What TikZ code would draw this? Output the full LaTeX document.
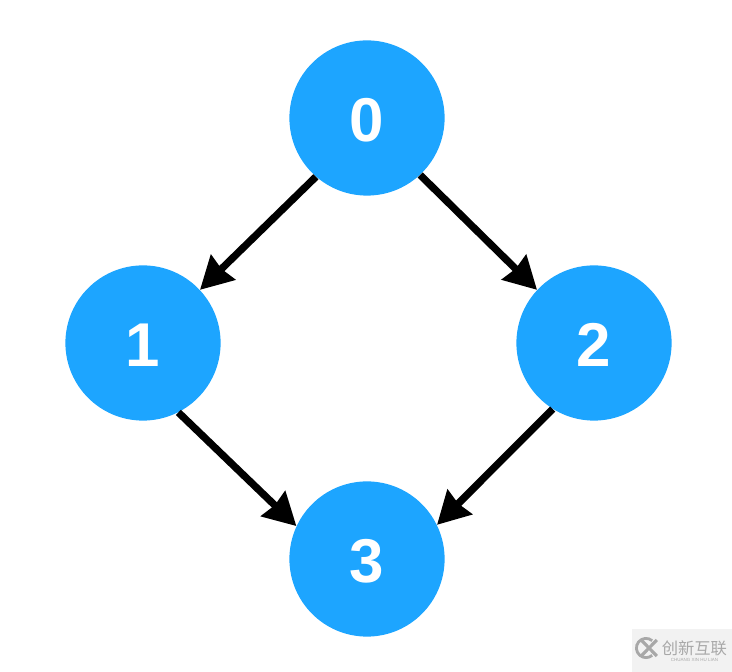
\documentclass[tikz,border=0pt]{standalone}
\usepackage{fontspec}
\usepackage{xcolor}
\usepackage{tikz}
\usetikzlibrary{arrows.meta}
\setmainfont{Liberation Sans}
\newfontfamily\cjkfont{Noto Sans CJK SC}
\definecolor{NodeBlue}{HTML}{1DA5FF}
\definecolor{MarkGray}{HTML}{F2F2F2}
\definecolor{MarkText}{HTML}{A8A8A8}

\begin{document}
\begin{tikzpicture}[
    vertex/.style={circle, fill=NodeBlue, text=white, minimum size=3.88cm, inner sep=0pt,
                text height=34pt, text depth=0pt, font=\fontsize{44}{44}\selectfont\bfseries},
    arrow/.style={-{Stealth[length=0.8cm, width=0.85cm, inset=0.05cm]}, line width=5.2pt, black}
  ]
    \useasboundingbox (0,0) rectangle (18.3,16.8);
    \node[vertex] (n0) at (9.175,13.85) {0};
    \node[vertex] (n1) at (3.575,8.225) {1};
    \node[vertex] (n2) at (14.85,8.225) {2};
    \node[vertex] (n3) at (9.175,2.825) {3};

    \draw[arrow] (n0.229) -- (n1.43);
    \draw[arrow] (n0.-47) -- (n2.137);
    \draw[arrow] (n1.-63) -- (n3.155);
    \draw[arrow] (n2.-122) -- (n3.26);

    % corner mark
    \fill[MarkGray] (15.8,0) rectangle (18.3,1.075);
    \draw[MarkText, line width=2pt] (16.15,0.6) ++(50:0.24) arc (50:310:0.24);
    \draw[MarkText, line width=2.2pt] (16.03,0.8) -- (16.42,0.4) (16.03,0.4) -- (16.42,0.8);
    \node[text=MarkText, inner sep=0pt, font=\cjkfont\fontsize{11.6}{12}\selectfont] (marktext) at (17.36,0.59) {创新互联};
    \node[text=MarkText, inner sep=0pt, font=\fontsize{3.2}{4}\selectfont] (marksub) at (17.36,0.31) {CHUANG XIN HU LIAN};
  \end{tikzpicture}
\end{document}
